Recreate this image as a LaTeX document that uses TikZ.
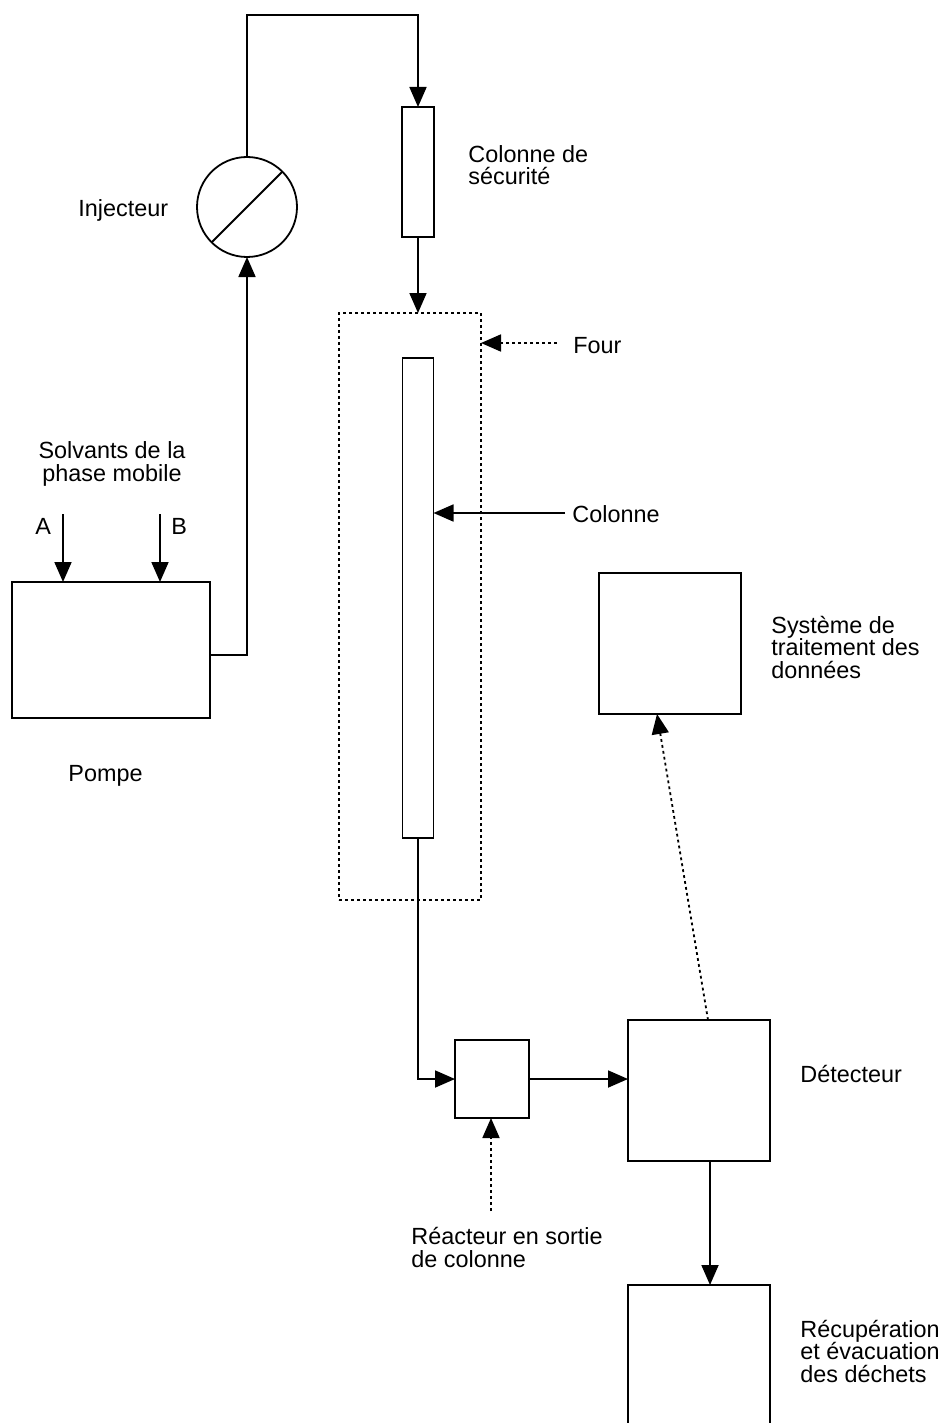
\documentclass[tikz,border=0pt]{standalone}
\usepackage{fontspec}
\setmainfont{Liberation Sans}
\usetikzlibrary{arrows.meta}

\tikzset{
  box/.style={draw,line width=.9pt,inner sep=0pt,outer sep=0pt},
  arr/.style={line width=.9pt,-{Triangle[length=10pt,width=8.5pt]}},
  pointille/.style={dash pattern=on 1.4pt off 1.6pt},
  lbl/.style={inner sep=0pt,anchor=base west,align=left,font=\fontsize{11.7}{11.1}\selectfont}
}

\begin{document}
\begin{tikzpicture}[x=0.5pt,y=-0.5pt]
\useasboundingbox (0,0) rectangle (946,1423);
\clip (0,0) rectangle (946,1423);
% appareils
\node[box,minimum width=99pt,minimum height=68pt] (pompe) at (111,650) {};
\node[box,circle,minimum size=50pt] (inj) at (247,207) {};
\node[box,minimum width=16pt,minimum height=65pt] (garde) at (418,172) {};
\node[box,pointille,minimum width=71pt,minimum height=293.5pt] (four) at (410,606.5) {};
\node[box,minimum width=15.5pt,minimum height=240pt] (col) at (418,598) {};
\node[box,minimum width=37pt,minimum height=39pt] (reac) at (492,1079) {};
\node[box,minimum width=71pt,minimum height=70.5pt] (det) at (699,1090.5) {};
\node[box,minimum width=71pt,minimum height=70.5pt] (donnees) at (670,643.5) {};
\node[box,minimum width=71pt,minimum height=90pt] (dechets) at (699,1375) {};
\draw[line width=.9pt] (inj.225) -- (inj.45);
% points libres
\coordinate (haut) at (247,15);
\coordinate (A) at (63,514);
\coordinate (B) at (160,514);
\coordinate (f) at (557,343);
\coordinate (c) at (565,513);
\coordinate (r) at (491,1211);
% circulation
\draw[arr] (A) -- (A |- pompe.north);
\draw[arr] (B) -- (B |- pompe.north);
\draw[arr] ([yshift=-2.5pt]pompe.east) -| (inj.south);
\draw[arr] (inj.north) -- (haut) -| (garde.north);
\draw[arr] (garde.south) -- (garde.south |- four.north);
\draw[arr] (col.south) |- (reac.west);
\draw[arr] (reac.east) -- (reac.east -| det.west);
\draw[arr] ([xshift=5.5pt]det.south) -- ([xshift=5.5pt]det.south |- dechets.north);
\draw[arr,pointille] ([xshift=4.5pt]det.north) -- ([xshift=-6.5pt]donnees.south);
\draw[arr,pointille] (f) -- (f -| four.east);
\draw[arr] (c) -- (c -| col.east);
\draw[arr,pointille] (r) -- (r |- reac.south);
% textes (base = derniere ligne)
\node[lbl] (tinj) at (78,217) {Injecteur};
\node[lbl] (tgarde) at (468,185) {Colonne de\\sécurité};
\node[lbl] (tfour) at (573,353) {Four};
\node[lbl] (tcol) at (572,522) {Colonne};
\node[lbl,anchor=base,align=center] (tsolv) at (112,481) {Solvants de la\\phase mobile};
\node[lbl] (tA) at (35,534) {A};
\node[lbl] (tB) at (171,534) {B};
\node[lbl] (tpompe) at (68,781) {Pompe};
\node[lbl] (tdonnees) at (771,678) {Système de\\traitement des\\données};
\node[lbl] (tdet) at (800,1082) {Détecteur};
\node[lbl] (treac) at (411,1267) {Réacteur en sortie\\de colonne};
\node[lbl] (tdechets) at (800,1382) {Récupération\\et évacuation\\des déchets};
\end{tikzpicture}
\end{document}
